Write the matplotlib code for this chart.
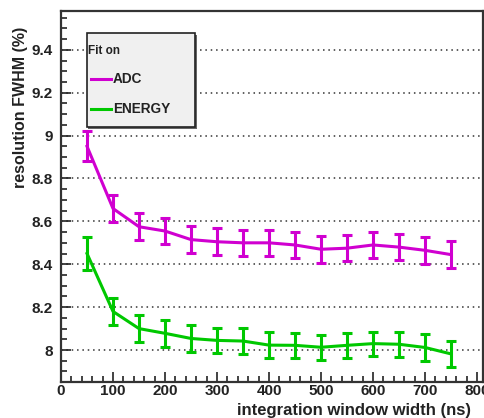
import matplotlib
matplotlib.use("Agg")
import matplotlib.pyplot as plt
from matplotlib.patches import Rectangle
from matplotlib.lines import Line2D
from matplotlib.ticker import MultipleLocator

plt.rcParams['font.family'] = ['Liberation Sans', 'DejaVu Sans']
plt.rcParams['font.weight'] = 'bold'

window_ns = [50, 100, 150, 200, 250, 300, 350, 400, 450, 500, 550, 600, 650, 700, 750]
adc_res = [8.95, 8.66, 8.575, 8.555, 8.515, 8.505, 8.50, 8.50, 8.49, 8.47, 8.475, 8.49, 8.48, 8.465, 8.445]
adc_err = [0.07, 0.063, 0.062, 0.062, 0.062, 0.062, 0.062, 0.062, 0.062, 0.062, 0.062, 0.062, 0.062, 0.062, 0.064]
energy_res = [8.45, 8.18, 8.10, 8.078, 8.054, 8.045, 8.042, 8.023, 8.022, 8.013, 8.022, 8.03, 8.027, 8.012, 7.982]
energy_err = [0.075, 0.062, 0.062, 0.062, 0.062, 0.06, 0.062, 0.062, 0.058, 0.058, 0.058, 0.056, 0.058, 0.062, 0.06]

series_names = ["ADC", "ENERGY"]
legend_title = "Fit on"
xlabel = "integration window width (ns)"
ylabel = "resolution FWHM (%)"

col_adc = '#d000d0'
col_en = '#00c800'

W, H = 485, 418
fig = plt.figure(figsize=(W / 100, H / 100), dpi=100)
ax = fig.add_axes([61 / W, 1 - 382 / H, (483 - 61) / W, (382 - 11) / H])

for y, e, c in [(adc_res, adc_err, col_adc), (energy_res, energy_err, col_en)]:
    ax.errorbar(window_ns, y, yerr=e, color=c, lw=2.2, elinewidth=2.2,
                capsize=3.8, capthick=2.2, zorder=3)

ax.set_xlim(0, 811.5)
ax.set_ylim(7.851, 9.581)
ax.xaxis.set_major_locator(MultipleLocator(100))
ax.xaxis.set_minor_locator(MultipleLocator(20))
ax.yaxis.set_major_locator(MultipleLocator(0.2))
ax.yaxis.set_minor_locator(MultipleLocator(0.05))
ax.yaxis.set_major_formatter(plt.FuncFormatter(lambda v, p: f"{v:g}" if abs(v - round(v)) > 1e-9 else f"{int(round(v))}"))

ax.tick_params(which='both', direction='in', top=False, right=False, color='#222222', width=1.2)
ax.tick_params(which='major', length=7, labelsize=11)
ax.tick_params(axis='x', which='major', pad=1.5)
ax.tick_params(axis='y', which='major', pad=6)
ax.tick_params(which='minor', length=4)
for lab in ax.get_xticklabels() + ax.get_yticklabels():
    lab.set_fontweight('bold')
    lab.set_color('#222222')

ax.grid(axis='y', which='major', linestyle=(0, (1, 2.5)), color='#333333', lw=1.1)
ax.set_axisbelow(True)

for s in ax.spines.values():
    s.set_color('#333333')
    s.set_linewidth(1.6)

fig.text(471 / W, 1 - 410 / H, xlabel, ha='right', va='center', fontsize=12, fontweight='bold', color='#222222')
fig.text(21 / W, 1 - 27 / H, ylabel, ha='center', va='top', rotation=90, fontsize=11.5, fontweight='bold', color='#222222')

# legend box
fig.patches.append(Rectangle((88.5 / W, 1 - 128.5 / H), 108 / W, 94 / H, transform=fig.transFigure,
                             facecolor='#666666', edgecolor='none', zorder=5))
fig.patches.append(Rectangle((87 / W, 1 - 127 / H), 108 / W, 94 / H, transform=fig.transFigure,
                             facecolor='#f0f0f0', edgecolor='#222222', lw=1.2, zorder=6))
fig.text(88 / W, 1 - 51 / H, legend_title, ha='left', va='center', fontsize=8.5, fontweight='bold', color='#222222', zorder=7)
for name, c, yy in [(series_names[0], col_adc, 79), (series_names[1], col_en, 109)]:
    fig.lines.append(Line2D([91 / W, 111 / W], [1 - yy / H, 1 - yy / H], transform=fig.transFigure,
                            color=c, lw=2.2, zorder=7))
    fig.text(113 / W, 1 - yy / H, name, ha='left', va='center', fontsize=9.8, fontweight='bold', color='#222222', zorder=7)

fig.savefig("out.png", dpi=100)
